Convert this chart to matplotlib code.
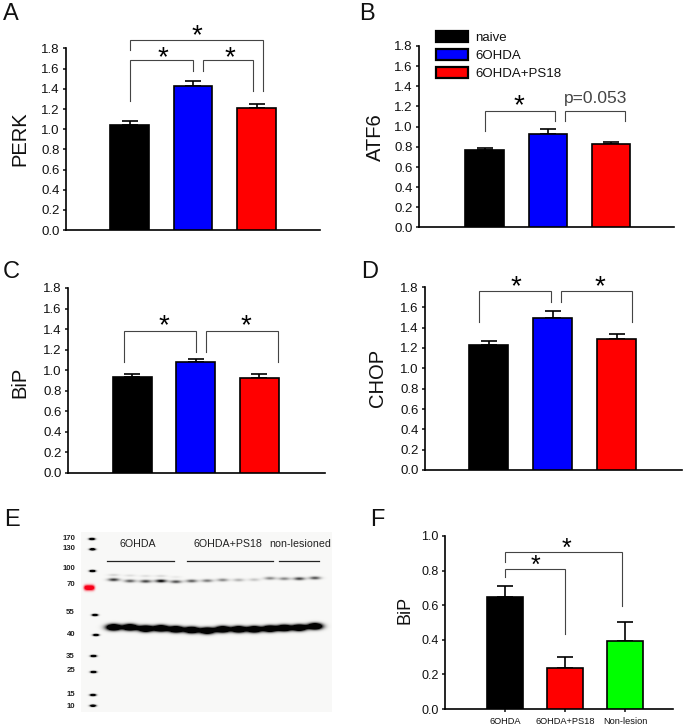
import numpy as np
import matplotlib
matplotlib.use('Agg')
import matplotlib.pyplot as plt
from matplotlib.patches import Patch

W, H = 685, 727
plt.rcParams['font.family'] = ['Liberation Sans', 'DejaVu Sans']

# bar data
groups = ['naive', '6OHDA', '6OHDA+PS18']
colors = ['#000000', '#0000ff', '#ff0000']

perk_vals = [1.045, 1.425, 1.205]
perk_err = [0.04, 0.05, 0.04]
atf6_vals = [0.765, 0.925, 0.83]
atf6_err = [0.02, 0.05, 0.015]
bip_vals = [0.935, 1.08, 0.925]
bip_err = [0.03, 0.03, 0.04]
chop_vals = [1.225, 1.495, 1.29]
chop_err = [0.04, 0.07, 0.045]

f_groups = ['6OHDA', '6OHDA+PS18', 'Non-lesion']
f_colors = ['#000000', '#ff0000', '#00ff00']
f_vals = [0.65, 0.235, 0.395]
f_err = [0.06, 0.065, 0.11]

# blot: marker sizes and their rows on the scan
ladder_labels = ['170', '130', '100', '70', '55', '40', '35', '25', '15', '10']
ladder_label_y = [539, 549, 569, 584, 613, 635, 656, 671, 695, 707]
ladder_x = [92, 92.5, 92.5, 95, 96, 93.5, 93.5, 93, 93]
ladder_y = [539, 549.3, 571, 615, 635, 656, 672, 695, 705.7]

lane_x = [113.7, 130, 145.7, 161, 176, 191.7, 207.3, 222.7, 238.7, 254.3, 270, 284.3, 299.3, 315]
main_y = [627.3, 627.3, 628.7, 628.3, 629.3, 630, 630.7, 629.3, 629.3, 629.3, 628.7, 628, 627.7, 626.3]
main_dark = [1, 1, 1, 1, 1, 1, 1, 1, 1, 1, 1, 1, 1, 1]
upper_y = [579.7, 581, 581.3, 581, 581.7, 581, 580.7, 580, 580, 579.7, 578.3, 578.7, 578.7, 578]
upper_dark = [0.7, 0.55, 0.65, 0.9, 0.6, 0.55, 0.45, 0.4, 0.25, 0.18, 0.4, 0.4, 0.65, 0.6]
ghost_y = [575, 575.5, 576, 576, 577]
ghost_dark = [0.14, 0.1, 0.1, 0.12, 0.06]

blot_groups = ['6OHDA', '6OHDA+PS18', 'non-lesioned']
blot_group_x = [138, 228, 300]
blot_line_start = [107.3, 187, 279.3]
blot_line_end = [174.3, 273, 319]


def px_rect(x0, y0, x1, y1):
    return [x0 / W, 1 - y1 / H, (x1 - x0) / W, (y1 - y0) / H]


def bracket(ax, x0, x1, top, end0, end1):
    ax.plot([x0, x0, x1, x1], [end0, top, top, end1], color='#444444', lw=0.8,
            clip_on=False, solid_joinstyle='miter', zorder=5)


def star(ax, x, y, size=20):
    ax.text(x, y, '*', fontsize=size, ha='center', va='center_baseline', color='black', clip_on=False)


def bar_panel(rect, xlim, ylim, yticks, vals, err, cols, ylabel, label_xy, label_size=14.5,
              width=0.61, tick_size=9.5):
    ax = fig.add_axes(px_rect(*rect))
    x = np.arange(len(vals))
    ax.bar(x, vals, width=width, color=cols, edgecolor='black', linewidth=1.2, zorder=3)
    ax.errorbar(x, vals, yerr=[np.zeros(len(err)), err], fmt='none', ecolor='black',
                elinewidth=1.2, capsize=5.5, capthick=1.2, zorder=2)
    ax.set_xlim(*xlim)
    ax.set_ylim(*ylim)
    ax.set_yticks(yticks)
    ax.set_yticklabels(['%.1f' % t for t in yticks])
    ax.tick_params(axis='y', labelsize=tick_size, length=2.5, width=1.1, pad=2, colors='#111111')
    ax.set_xticks([])
    for s in ['top', 'right']:
        ax.spines[s].set_visible(False)
    for s in ['left', 'bottom']:
        ax.spines[s].set_linewidth(1.2)
    ax.set_ylabel(ylabel, fontsize=label_size, color='#111111', va='center')
    ax.yaxis.set_label_coords(label_xy[0] / W, 1 - label_xy[1] / H, transform=fig.transFigure)
    ax.patch.set_alpha(0)
    return ax


fig = plt.figure(figsize=(W / 100, H / 100), dpi=100)
ticks18 = np.arange(0, 1.9, 0.2)

# A
ax = bar_panel((66, 48.5, 320, 230), (-1.0, 3.0), (0, 1.8), ticks18, perk_vals, perk_err, colors,
               'PERK', (20, 139))
bracket(ax, 0.01, 2.11, 1.885, 1.786, 1.382)
bracket(ax, 0.01, 1.005, 1.683, 1.283, 1.58)
bracket(ax, 1.157, 1.95, 1.683, 1.58, 1.382)
star(ax, 1.06, 1.95)
star(ax, 0.52, 1.73)
star(ax, 1.58, 1.73)

# B
ax = bar_panel((419, 46, 674, 227.5), (-1.04, 3.0), (0, 1.8), ticks18, atf6_vals, atf6_err, colors,
               'ATF6', (375, 137))
bracket(ax, 0.0, 1.115, 1.159, 0.954, 1.053)
bracket(ax, 1.274, 2.23, 1.159, 1.053, 1.053)
star(ax, 0.546, 1.235)
ax.text(1.765, 1.278, 'p=0.053', fontsize=12.5, ha='center', va='center', color='#444444')
handles = [Patch(facecolor=c, edgecolor='black', linewidth=1.6, label=g) for c, g in zip(colors, groups)]
fig.legend(handles=handles, loc='upper left', bbox_to_anchor=(436 / W, 1 - 31 / H), frameon=False,
           fontsize=9.5, handlelength=2.45, handleheight=0.9, handletextpad=0.5, labelspacing=0.36,
           borderpad=0, borderaxespad=0, labelcolor='#111111')

# C
ax = bar_panel((68, 288, 325, 472.7), (-1.01, 3.03), (0, 1.8), ticks18, bip_vals, bip_err, colors,
               'BiP', (20, 382))
bracket(ax, -0.129, 1.007, 1.384, 1.082, 1.18)
bracket(ax, 1.158, 2.287, 1.384, 1.18, 1.082)
star(ax, 0.494, 1.46)
star(ax, 1.78, 1.46)

# D
ax = bar_panel((425, 287, 682, 470), (-1.0, 3.02), (0, 1.8), ticks18, chop_vals, chop_err, colors,
               'CHOP', (377, 378))
bracket(ax, -0.161, 0.964, 1.763, 1.458, 1.655)
bracket(ax, 1.12, 2.245, 1.763, 1.655, 1.458)
star(ax, 0.417, 1.825)
star(ax, 1.734, 1.825)

# F
ax = bar_panel((445, 536, 673, 709), (-1.0, 2.8), (0, 1.0), np.arange(0, 1.1, 0.2), f_vals, f_err, f_colors,
               'BiP', (405, 610), label_size=13, tick_size=9)
ax.set_xticks(np.arange(3))
ax.set_xticklabels(f_groups)
ax.tick_params(axis='x', labelsize=6.7, length=2.5, width=1.1, pad=3, colors='#111111')
bracket(ax, 0.0, 1.95, 0.908, 0.848, 0.597)
bracket(ax, 0.0, 1.0, 0.807, 0.765, 0.433)
star(ax, 1.025, 0.94, 18)
star(ax, 0.506, 0.84, 18)

# E, blot scan built up from the band lists
bx0, bx1, by0, by1 = 81, 332, 532, 712
xx, yy = np.meshgrid(np.arange(bx0, bx1) + 0.5, np.arange(by0, by1) + 0.5)
dark = np.zeros_like(xx)


def add_bands(xs, ys, ds, w, h, gain=1.0):
    global dark
    for bx, by, d in zip(xs, ys, ds):
        dark = dark + d * gain * np.exp(-((xx - bx) / w) ** 2 - ((yy - by) / h) ** 2)


add_bands(lane_x, main_y, main_dark, 7.0, 3.0, 2.4)
add_bands(lane_x, upper_y, upper_dark, 5.5, 1.6, 1.1)
add_bands(lane_x[:5], ghost_y, ghost_dark, 5.5, 1.3)
add_bands(ladder_x, ladder_y, [1] * len(ladder_x), 2.8, 1.1, 2.0)
dark = np.clip(dark, 0, 1)
grey = 0.975 - 0.96 * dark
img = np.dstack([grey, grey, grey * 0.995])
red = np.clip(1.6 * np.exp(-((xx - 89.3) / 5.2) ** 4 - ((yy - 587.7) / 2.6) ** 2), 0, 1)
img[..., 1] = img[..., 1] * (1 - red)
img[..., 2] = img[..., 2] * (1 - 0.9 * red)

ax = fig.add_axes(px_rect(bx0, by0, bx1, by1))
ax.imshow(img, extent=(bx0, bx1, by1, by0), aspect='auto', interpolation='bilinear')
ax.set_xlim(bx0, bx1)
ax.set_ylim(by1, by0)
ax.axis('off')
for name, gx, start, end in zip(blot_groups, blot_group_x, blot_line_start, blot_line_end):
    ax.text(gx, 544, name, fontsize=7.7, ha='center', va='center', color='#222222')
    ax.plot([start, end], [561, 561], color='#222222', lw=0.9)
for lab, ly in zip(ladder_labels, ladder_label_y):
    ax.text(75, ly, lab, fontsize=5.6, fontweight='bold', ha='right', va='center', color='#222222', clip_on=False)

# panel letters
for letter, lx, ly in [('A', 3, 14), ('B', 359, 14), ('C', 3, 272), ('D', 361, 272), ('E', 4, 520), ('F', 370, 520)]:
    fig.text(lx / W, 1 - ly / H, letter, fontsize=17, ha='left', va='center', color='#111111')

fig.savefig('out.png', dpi=100)
